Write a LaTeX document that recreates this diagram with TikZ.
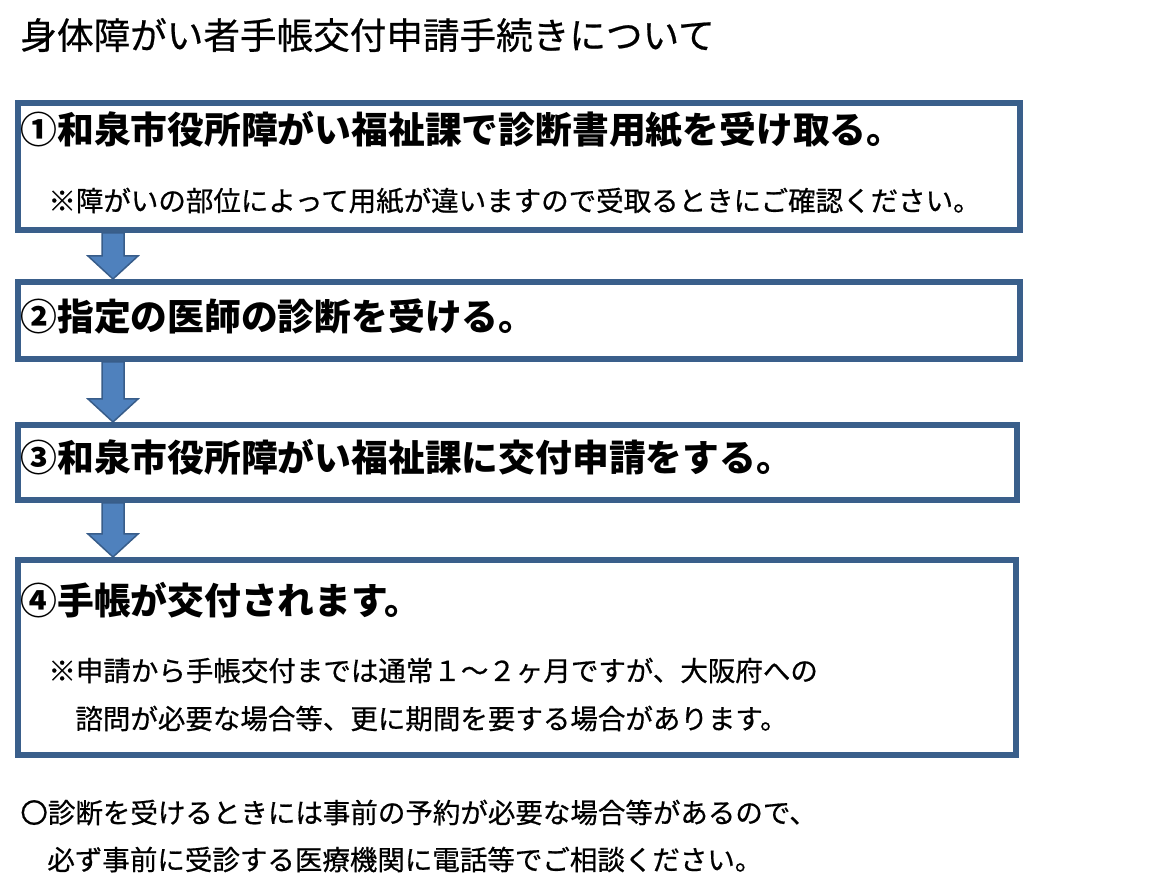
\documentclass[tikz,border=0pt]{standalone}
\usepackage{fontspec}
\setmainfont{Noto Sans CJK JP}
\newfontfamily\medjp{Noto Sans CJK JP}[FakeBold=0.6]
\usetikzlibrary{calc}
\definecolor{boxline}{RGB}{58,95,139}
\definecolor{arrowfill}{RGB}{79,129,189}
\definecolor{arrowline}{RGB}{56,93,138}
\tikzstyle{stepbox} = [draw=boxline, line width=3pt, rectangle, inner sep=0pt]
\tikzstyle{flowarrow} = [fill=arrowfill, draw=arrowline, line width=0.75pt, line join=miter]
\tikzstyle{titletext} = [anchor=base west, inner sep=0pt, font=\medjp\fontsize{18.3pt}{22pt}\selectfont]
\tikzstyle{headtext} = [anchor=base west, inner sep=0pt, font=\fontsize{18.4pt}{22pt}\selectfont\bfseries]
\tikzstyle{notetext} = [anchor=base west, inner sep=0pt, font=\medjp\fontsize{13.75pt}{16pt}\selectfont]
\begin{document}
\begin{tikzpicture}[x=0.5pt, y=-0.5pt]
    \useasboundingbox[fill=white] (0,0) rectangle (1152,892);
    \node[titletext] at (20,49) (title) {身体障がい者手帳交付申請手続きについて};

    \node[stepbox, minimum width=501pt, minimum height=63.5pt] at (519,166.5) (b1) {};
    \node[stepbox, minimum width=501pt, minimum height=38.5pt] at (519,320.5) (b2) {};
    \node[stepbox, minimum width=499.5pt, minimum height=37.5pt] at (517.5,462.5) (b3) {};
    \node[stepbox, minimum width=499pt, minimum height=97.5pt] at (517,657.5) (b4) {};

    \node[headtext] at (20,144) (t1) {①和泉市役所障がい福祉課で診断書用紙を受け取る。};
    \node[notetext] at (48,211) (n1) {※障がいの部位によって用紙が違いますので受取るときにご確認ください。};
    \node[headtext] at (20,331) (t2) {②指定の医師の診断を受ける。};
    \node[headtext] at (20,472) (t3) {③和泉市役所障がい福祉課に交付申請をする。};
    \node[headtext] at (20,615) (t4) {④手帳が交付されます。};
    \node[notetext] at (48,681) (n4a) {※申請から手帳交付までは通常１～２ヶ月ですが、大阪府への};
    \node[notetext] at (75,729) (n4b) {諮問が必要な場合等、更に期間を要する場合があります。};

    \node[notetext] at (20,823) (m1) {〇診断を受けるときには事前の予約が必要な場合等があるので、};
    \node[notetext] at (47,870) (m2) {必ず事前に受診する医療機関に電話等でご相談ください。};

    \coordinate (ax) at (113,0);
    \foreach \boxa/\boxb in {b1/b2, b2/b3, b3/b4}
        \draw[flowarrow] let \p1 = (\boxa.south -| ax), \p2 = (\boxb.north -| ax) in
            (\x1-5.5pt,\y1) -- (\x1-5.5pt,\y2+11.5pt) -- (\x1-12.5pt,\y2+11.5pt) -- (\x2,\y2)
            -- (\x1+12.5pt,\y2+11.5pt) -- (\x1+5.5pt,\y2+11.5pt) -- (\x1+5.5pt,\y1) -- cycle;
\end{tikzpicture}
\end{document}
